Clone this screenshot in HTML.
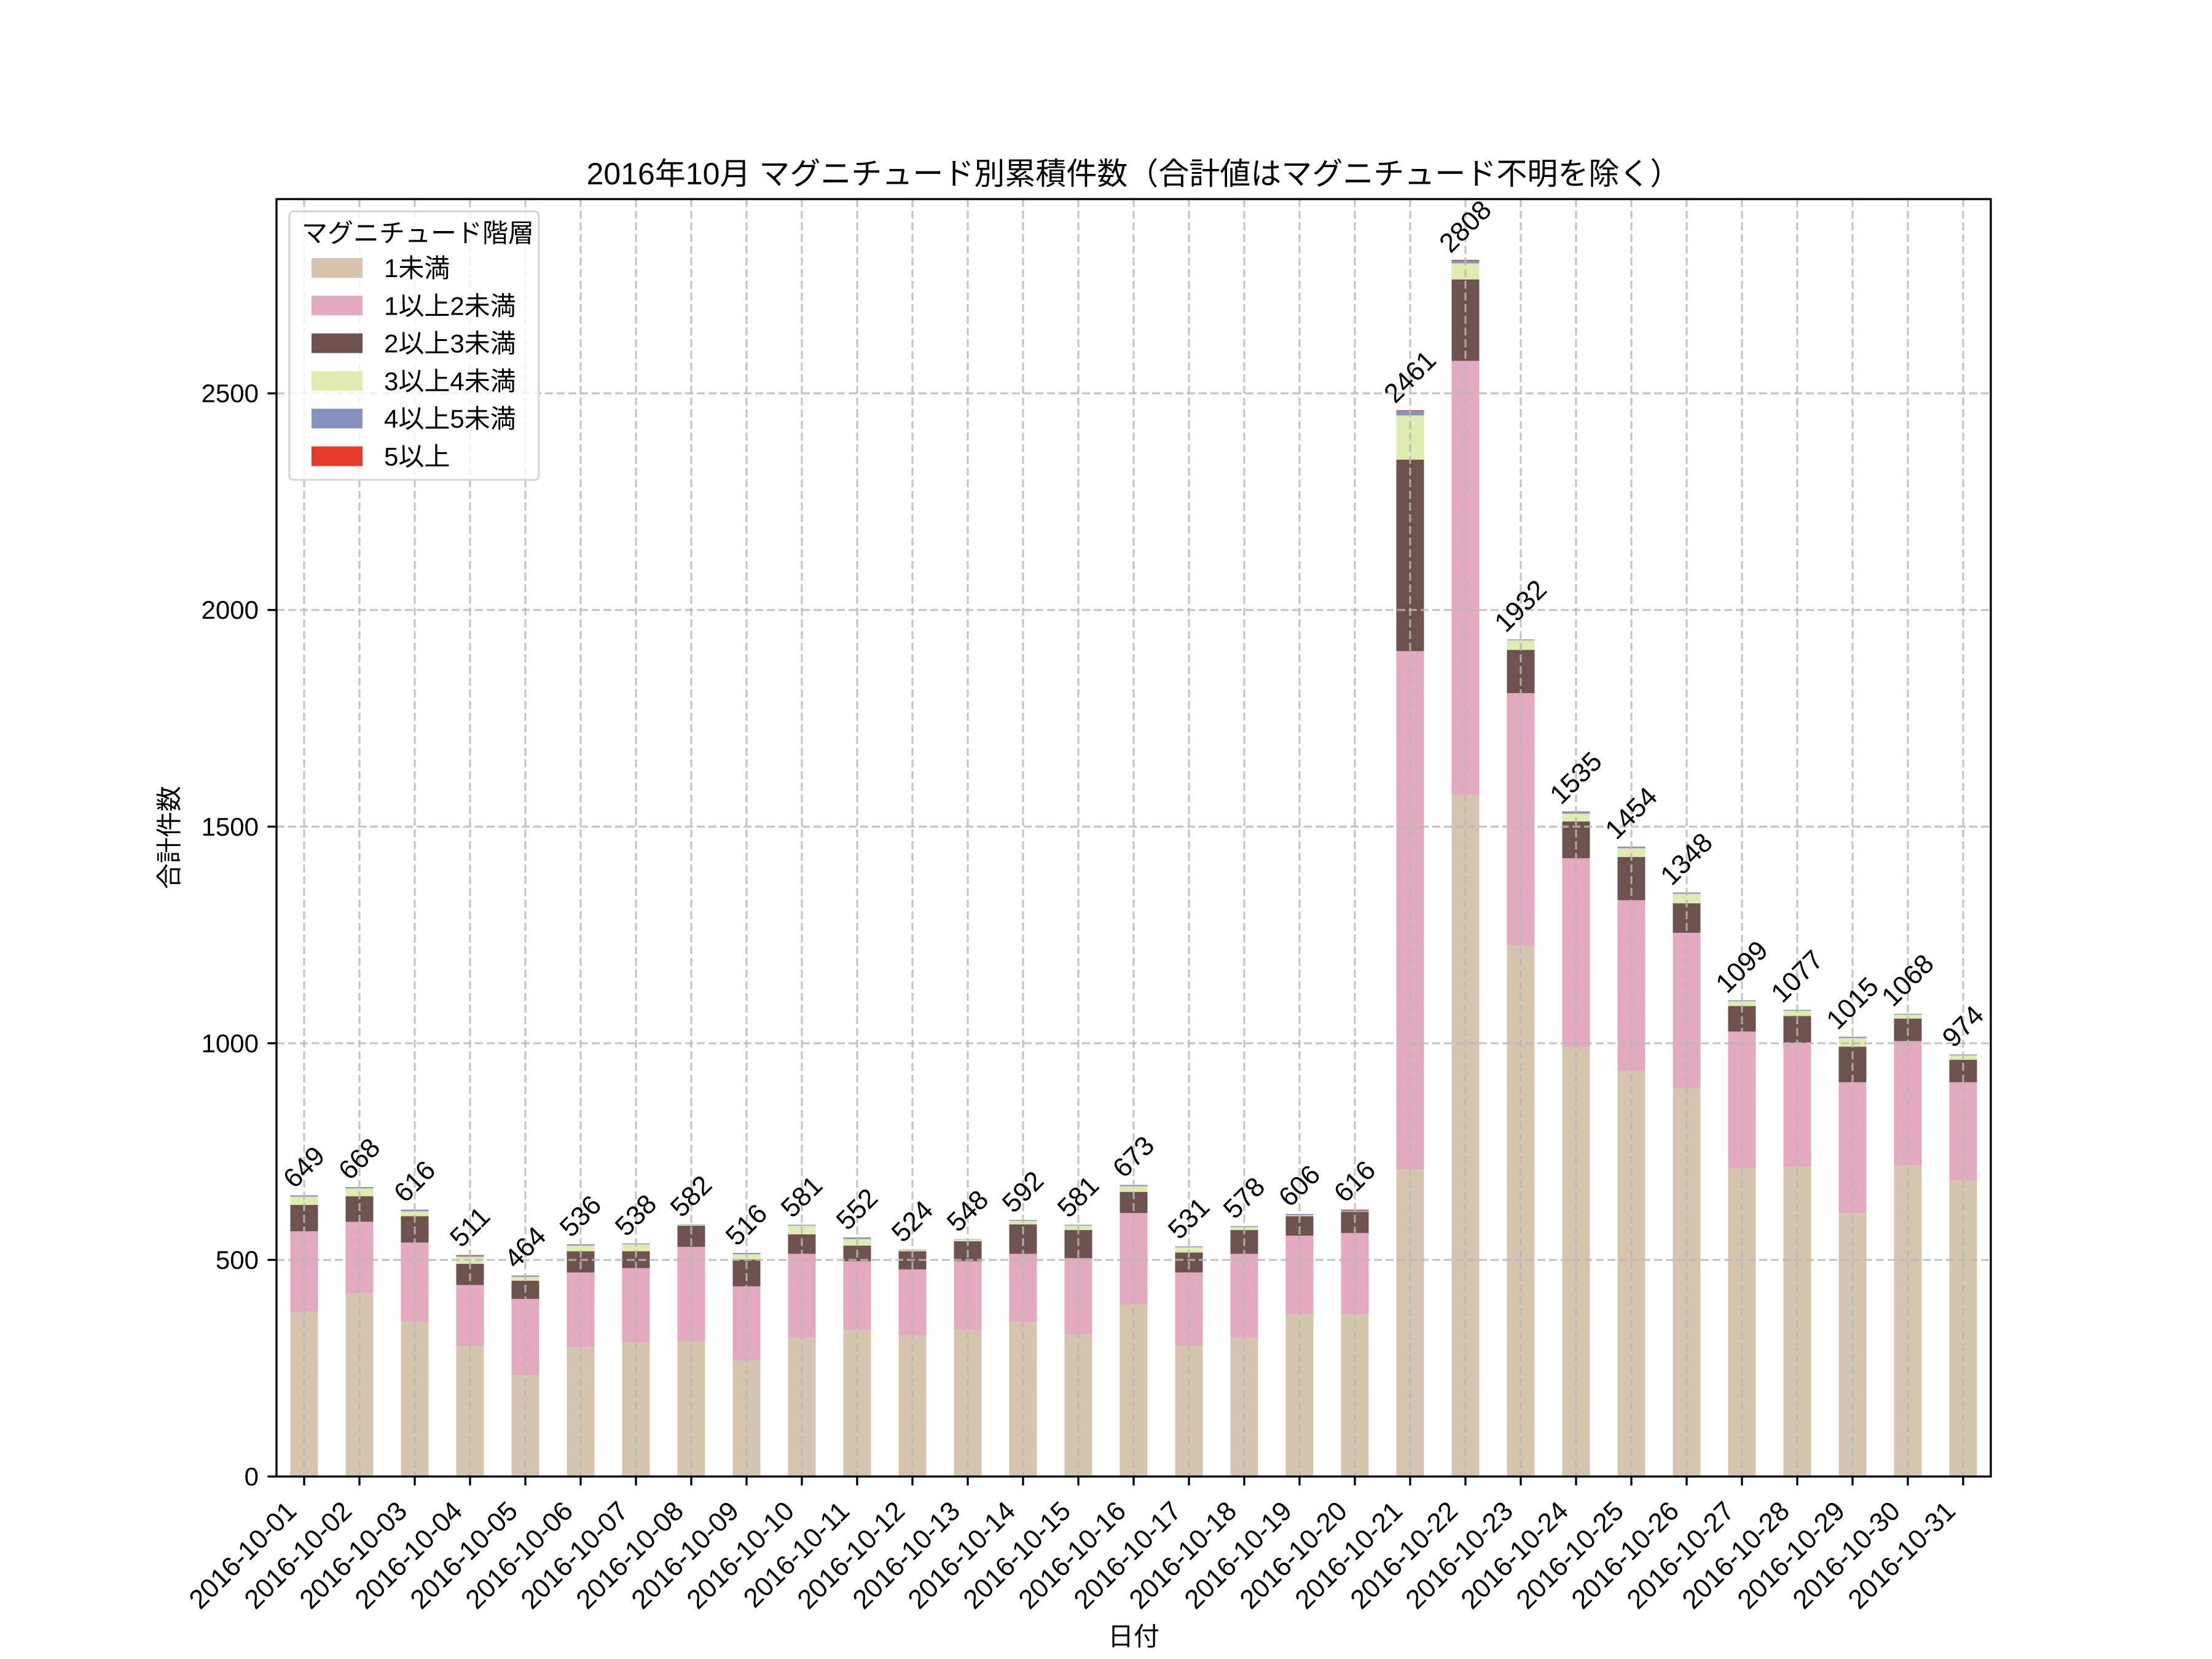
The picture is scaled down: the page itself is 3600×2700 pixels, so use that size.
<!DOCTYPE html>
<html><head><meta charset="utf-8"><style>
html,body{margin:0;padding:0;background:#fff;}
svg{display:block;font-family:"Liberation Sans","Noto Sans CJK JP",sans-serif;}
</style></head><body>
<svg id="c" xmlns="http://www.w3.org/2000/svg" width="3600" height="2700" viewBox="0 0 3600 2700"></svg>
<script>
const L=450,R=3240,T=324,B=2403,YMAX=2948.4;
const sc=(B-T)/YMAX;
const y=v=>B-v*sc;
const D=[
[380,566,627,649,3,0],[423,588,647,668,3,0],[358,540,601,616,4,0],[302,442,491,511,2,2],
[234,410,452,464,3,0],[299,471,520,536,3,0],[309,481,520,538,2,0],[312,530,579,582,1,0],
[267,439,501,516,3,0],[322,514,559,581,2,0],[338,497,533,552,4,0],[325,478,520,524,1,0],
[338,497,543,548,1,0],[358,514,582,592,2,0],[328,504,569,581,2,0],[397,608,657,673,3,0],
[302,471,517,531,2,0],[322,514,569,578,2,0],[374,556,601,606,3,0],[374,562,611,616,2,2],
[709,1905,2347,2461,10,2],[1573,2575,2763,2808,6,2],[1226,1808,1908,1932,2,0],[992,1427,1512,1535,4,1],
[936,1330,1430,1454,4,0],[897,1255,1323,1348,3,0],[712,1027,1086,1099,2,0],[715,1001,1063,1077,2,0],
[608,910,992,1015,3,0],[718,1005,1057,1068,2,0],[683,910,962,974,2,0]];
const C=["#d5c4ae","#e3aabf","#6d524e","#e0ebb0","#8592c1","#e8392b"];
let s='';
s+=`<text x="1845" y="300" font-size="50" text-anchor="middle">2016年10月 マグニチュード別累積件数（合計値はマグニチュード不明を除く）</text>`;
D.forEach((d,i)=>{
  const cx=495+90*i, x0=cx-22.5;
  const [a,b,c,t,s5,s6]=d;
  const lv=[0,a,b,c,t-s5-s6,t-s6,t];
  for(let k=0;k<6;k++){
    if(lv[k+1]>lv[k]) s+=`<rect x="${x0}" y="${y(lv[k+1])}" width="45" height="${(lv[k+1]-lv[k])*sc}" fill="${C[k]}"/>`;
  }
});
for(let i=0;i<31;i++){const cx=495+90*i;s+=`<line x1="${cx}" y1="${T}" x2="${cx}" y2="${B}" stroke="#b8b8b8" stroke-opacity="0.8" stroke-width="3.3" stroke-dasharray="13 6"/>`;}
for(let v=500;v<=2500;v+=500){s+=`<line x1="${L}" y1="${y(v)}" x2="${R}" y2="${y(v)}" stroke="#b8b8b8" stroke-opacity="0.8" stroke-width="3.3" stroke-dasharray="13 6"/>`;}
D.forEach((d,i)=>{
  const cx=495+90*i, t=d[3], str=String(t);
  const w=str.length*24.5;
  const off=(w+30)*0.3535+9;
  const cy=y(t)-off;
  s+=`<text x="${cx}" y="${cy}" font-size="44" text-anchor="middle" dominant-baseline="central" transform="rotate(-45 ${cx} ${cy})">${str}</text>`;
});
s+=`<rect x="${L}" y="${T}" width="${R-L}" height="${B-T}" fill="none" stroke="#000" stroke-width="3.3"/>`;
for(let v=0;v<=2500;v+=500){const yy=y(v);s+=`<line x1="${L-14.6}" y1="${yy}" x2="${L}" y2="${yy}" stroke="#000" stroke-width="3.3"/><text x="${L-29}" y="${yy}" font-size="42" text-anchor="end" dominant-baseline="central">${v}</text>`;}
for(let i=0;i<31;i++){const cx=495+90*i;const dd=String(i+1).padStart(2,'0');
 s+=`<line x1="${cx}" y1="${B}" x2="${cx}" y2="${B+14.6}" stroke="#000" stroke-width="3.3"/>`;
 const bx=cx-10,by=2462;
 s+=`<text x="${bx}" y="${by}" font-size="44" text-anchor="end" transform="rotate(-45 ${bx} ${by})">2016-10-${dd}</text>`;}
s+=`<text x="1845" y="2678" font-size="42" text-anchor="middle">日付</text>`;
s+=`<text x="290" y="1363" font-size="42" text-anchor="middle" transform="rotate(-90 290 1363)">合計件数</text>`;
s+=`<rect x="471" y="344" width="406" height="437" rx="7" fill="#fff" fill-opacity="0.8" stroke="#d6d6d6" stroke-width="3.3"/>`;
s+=`<text x="491" y="394" font-size="42">マグニチュード階層</text>`;
const LB=["1未満","1以上2未満","2以上3未満","3以上4未満","4以上5未満","5以上"];
LB.forEach((l,k)=>{const yc=436+61.3*k;
 s+=`<rect x="507" y="${yc-16}" width="83" height="32" fill="${C[k]}"/><text x="625" y="${yc+15}" font-size="42">${l}</text>`;});
document.getElementById('c').innerHTML=s;
</script>
</body></html>
